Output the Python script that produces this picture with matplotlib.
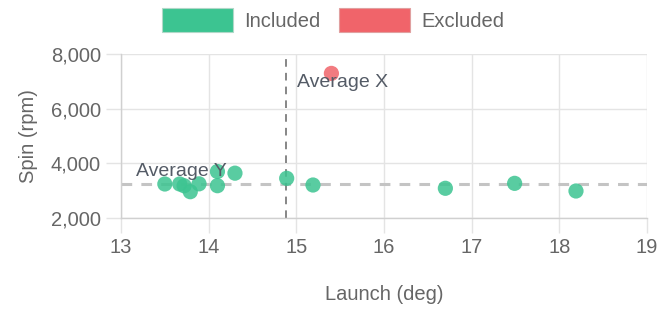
import matplotlib
matplotlib.use("Agg")
import matplotlib.pyplot as plt
import numpy as np
from matplotlib.patches import Patch

plt.rcParams['font.family'] = ['Liberation Sans', 'DejaVu Sans']

# Data
included_launch = [13.50, 13.67, 13.72, 13.79, 13.89, 14.10, 14.10, 14.30, 14.89, 15.19, 16.70, 17.49, 18.19]
included_spin   = [3244, 3244, 3180, 2962, 3250, 3700, 3182, 3640, 3452, 3207, 3087, 3268, 2988]
excluded_launch = [15.40]
excluded_spin   = [7290]
x_ticks = [13, 14, 15, 16, 17, 18, 19]
y_ticks = [2000, 4000, 6000, 8000]
series_labels = ["Included", "Excluded"]

avg_x = float(np.mean(included_launch))
avg_y = float(np.mean(included_spin))

green = '#3cc491'
red = '#f0646a'
grid_c = '#e4e4e4'
text_c = '#666666'
FS = 14.5

fig = plt.figure(figsize=(6.72, 3.13), dpi=100)
ax = fig.add_axes([121/672, 1-218/313, (647-121)/672, (218-54)/313])

ax.set_xlim(13, 19)
ax.set_ylim(2000, 8000)
ax.set_xticks(x_ticks)
ax.set_yticks(y_ticks)
ax.set_yticklabels([f"{v:,}" for v in y_ticks])
ax.grid(True, color=grid_c, linewidth=1)
ax.set_axisbelow(True)
for s in ['top', 'right']:
    ax.spines[s].set_visible(False)
for s in ['left', 'bottom']:
    ax.spines[s].set_color('#d0d0d0')
    ax.spines[s].set_linewidth(1)
ax.tick_params(axis='both', length=10.5, color=grid_c, width=1, labelcolor=text_c,
               labelsize=FS, pad=4)

# average lines
ax.axhline(avg_y, color='#c4c4c4', linewidth=2.2, dashes=(3.5, 3), zorder=1)
ax.axvline(avg_x, color='#666666', linewidth=1.1, dashes=(5, 4), zorder=1)

ax.scatter(included_launch, included_spin, s=120, color=green, alpha=0.85,
           edgecolors='none', zorder=3)
ax.scatter(excluded_launch, excluded_spin, s=120, color=red, alpha=0.85,
           edgecolors='none', zorder=3)

ax.text(avg_x + 0.12, 6950, "Average X", color='#545b66', fontsize=14,
        ha='left', va='center', zorder=4)
ax.text(13.17, avg_y + 450, "Average Y", color='#545b66', fontsize=14,
        ha='left', va='center', zorder=4)

ax.set_xlabel("Launch (deg)", color=text_c, fontsize=FS, labelpad=20)
ax.set_ylabel("Spin (rpm)", color=text_c, fontsize=FS, labelpad=9)

# legend
handles = [Patch(facecolor=green, edgecolor='#b0d8c8', linewidth=0.8),
           Patch(facecolor=red, edgecolor='#e0a0a0', linewidth=0.8)]
leg = fig.legend(handles, series_labels, loc='center', bbox_to_anchor=(333/672, 1-20/313),
                 ncol=2, frameon=False, fontsize=FS, handlelength=3.55, handleheight=1.5,
                 handletextpad=0.55, columnspacing=0.9, labelcolor=text_c)

fig.savefig("out.png", dpi=100)
